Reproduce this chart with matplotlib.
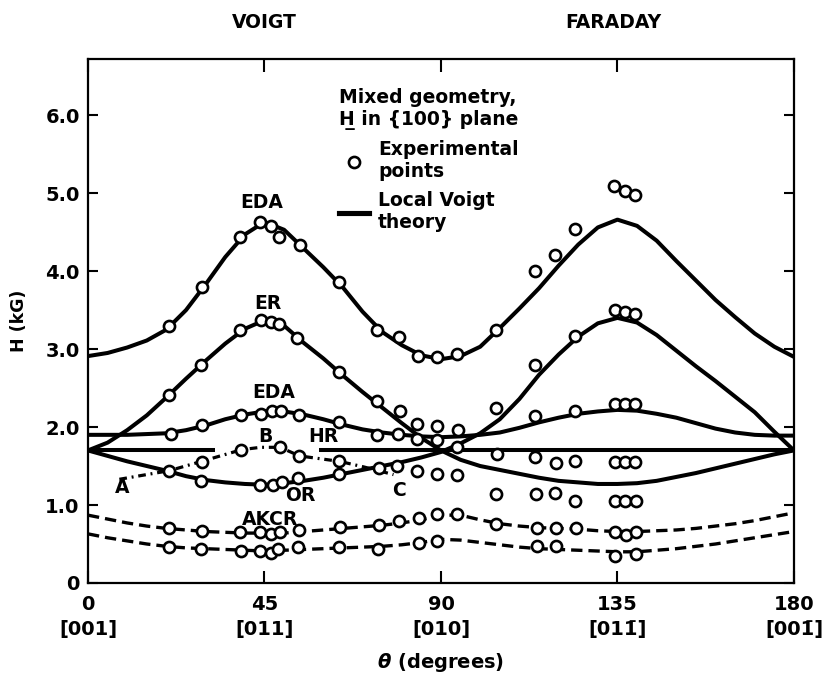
import matplotlib
matplotlib.use("Agg")
import matplotlib.pyplot as plt
import matplotlib.transforms as mtransforms
from matplotlib.lines import Line2D

# ---- data ----
theta = list(range(0, 181, 5))

# Local Voigt theory curves (H in kG), sampled every 5 degrees
eda_top_th = [2.91, 2.95, 3.02, 3.11, 3.25, 3.50, 3.83, 4.18, 4.47, 4.63,
              4.53, 4.29, 4.05, 3.79, 3.48, 3.22, 3.05, 2.92, 2.87,
              2.91, 3.03, 3.27, 3.52, 3.78, 4.07, 4.34, 4.56, 4.66,
              4.58, 4.39, 4.13, 3.88, 3.63, 3.41, 3.20, 3.03, 2.90]
er_left_th = [1.70, 1.80, 1.96, 2.15, 2.38, 2.62, 2.85, 3.07, 3.26, 3.37,
              3.30, 3.08, 2.88, 2.66, 2.45, 2.25, 2.05, 1.86, 1.70,
              1.58, 1.50, 1.45, 1.40, 1.35, 1.31, 1.29, 1.27, 1.27,
              1.28, 1.31, 1.36, 1.41, 1.47, 1.53, 1.59, 1.65, 1.70]
er_right_th = [1.70, 1.63, 1.56, 1.50, 1.44, 1.37, 1.32, 1.29, 1.27, 1.26,
               1.28, 1.31, 1.35, 1.40, 1.45, 1.50, 1.55, 1.61, 1.68,
               1.79, 1.92, 2.10, 2.36, 2.67, 2.93, 3.16, 3.33, 3.40,
               3.34, 3.18, 2.98, 2.78, 2.59, 2.39, 2.19, 1.94, 1.70]
eda_low_th = [1.90, 1.90, 1.90, 1.91, 1.92, 1.96, 2.02, 2.10, 2.16, 2.20,
              2.20, 2.16, 2.10, 2.03, 1.97, 1.93, 1.90, 1.88, 1.87,
              1.88, 1.90, 1.93, 1.99, 2.06, 2.12, 2.17, 2.20, 2.22,
              2.21, 2.17, 2.12, 2.05, 1.98, 1.93, 1.90, 1.89, 1.89]
akcr_hi_th = [0.87, 0.82, 0.77, 0.73, 0.70, 0.68, 0.66, 0.65, 0.64, 0.64,
              0.64, 0.66, 0.68, 0.70, 0.72, 0.74, 0.77, 0.81, 0.87,
              0.87, 0.81, 0.76, 0.73, 0.71, 0.70, 0.69, 0.67, 0.66,
              0.66, 0.67, 0.68, 0.70, 0.73, 0.76, 0.80, 0.85, 0.90]
akcr_lo_th = [0.63, 0.58, 0.54, 0.50, 0.47, 0.45, 0.44, 0.43, 0.42, 0.41,
              0.42, 0.43, 0.44, 0.45, 0.46, 0.47, 0.49, 0.52, 0.56,
              0.55, 0.52, 0.49, 0.46, 0.44, 0.43, 0.42, 0.41, 0.40,
              0.40, 0.42, 0.44, 0.47, 0.50, 0.54, 0.58, 0.62, 0.66]

hr_level = 1.70
hr_segments = [(0, 32.4), (59, 180)]

abc_x = [8.0, 20.7, 29.0, 39.2, 44.0, 49.0, 53.9, 64.1, 70.2, 77.9]
abc_y = [1.33, 1.44, 1.56, 1.71, 1.74, 1.74, 1.63, 1.56, 1.49, 1.39]

# experimental points
top_x = [20.7, 29.1, 38.8, 43.9, 46.6, 48.8, 54.1, 63.9, 73.6, 79.2, 84.1, 89.1, 94.2,
         104.1, 114.0, 119.0, 124.2, 134.2, 137.0, 139.5]
top_y = [3.30, 3.80, 4.44, 4.63, 4.58, 4.44, 4.33, 3.86, 3.24, 3.16, 2.91, 2.90, 2.94,
         3.25, 4.00, 4.20, 4.54, 5.09, 5.03, 4.98]
er_x = [20.7, 28.7, 38.8, 44.0, 46.6, 48.6, 53.4, 64.1, 73.7, 79.6, 84.0, 89.1, 94.3,
        104.1, 114.0, 124.2, 134.4, 137.0, 139.5]
er_y = [2.41, 2.79, 3.24, 3.37, 3.35, 3.32, 3.14, 2.71, 2.34, 2.21, 2.04, 2.01, 1.96,
        2.24, 2.80, 3.17, 3.50, 3.48, 3.45]
eda_x = [21.1, 29.1, 38.9, 44.1, 46.9, 49.2, 53.9, 64.1, 73.8, 79.0, 84.0, 89.1, 94.1,
         114.0, 124.2, 134.4, 137.0, 139.5]
eda_y = [1.91, 2.02, 2.15, 2.17, 2.20, 2.20, 2.16, 2.06, 1.90, 1.91, 1.85, 1.83, 1.75,
         2.14, 2.21, 2.30, 2.30, 2.30]
or_x = [20.7, 28.9, 43.9, 47.1, 49.4, 53.6, 64.1, 74.2, 78.9, 84.0, 89.1, 94.2,
        104.4, 114.0, 119.3, 124.2, 134.4, 137.0, 139.5]
or_y = [1.44, 1.31, 1.26, 1.26, 1.30, 1.35, 1.40, 1.48, 1.50, 1.44, 1.40, 1.39,
        1.65, 1.62, 1.54, 1.56, 1.55, 1.55, 1.55]
low_x = [104.1, 114.3, 119.1, 124.2, 134.3, 137.0, 139.7]
low_y = [1.14, 1.14, 1.15, 1.05, 1.05, 1.05, 1.05]
abc_pts_x = [29.0, 39.0, 49.0, 53.9, 64.1]
abc_pts_y = [1.55, 1.71, 1.74, 1.63, 1.56]
akcr_hi_x = [20.7, 29.1, 38.8, 43.9, 46.7, 49.0, 53.9, 64.3, 74.2, 79.4, 84.3, 89.1, 94.0,
             104.1, 114.5, 119.3, 124.4, 134.3, 137.2, 139.7]
akcr_hi_y = [0.70, 0.67, 0.65, 0.65, 0.63, 0.65, 0.68, 0.72, 0.75, 0.80, 0.83, 0.89, 0.88,
             0.76, 0.71, 0.71, 0.70, 0.66, 0.62, 0.66]
akcr_lo_x = [20.7, 28.7, 39.0, 43.9, 46.6, 48.5, 53.6, 64.1, 73.9, 84.3, 89.1,
             114.5, 119.3, 134.3, 139.7]
akcr_lo_y = [0.46, 0.44, 0.41, 0.41, 0.39, 0.43, 0.46, 0.46, 0.44, 0.51, 0.54,
             0.47, 0.48, 0.35, 0.37]

x_ticks = [0, 45, 90, 135, 180]
x_ticklabels = ["0\n[001]", "45\n[011]", "90\n[010]", "135\n[011\u0304]", "180\n[001\u0304]"]
y_ticks = [0, 1, 2, 3, 4, 5, 6]
y_ticklabels = ["0", "1.0", "2.0", "3.0", "4.0", "5.0", "6.0"]

curve_labels = [("EDA", 44.2, 4.88), ("ER", 45.8, 3.59), ("EDA", 47.3, 2.44),
                ("B", 45.2, 1.88), ("HR", 59.9, 1.88), ("A", 8.6, 1.22),
                ("OR", 54.1, 1.12), ("C", 79.2, 1.18), ("AKCR", 46.4, 0.82)]

# ---- figure ----
plt.rcParams['font.family'] = ['DejaVu Sans']
plt.rcParams['font.weight'] = 'bold'
plt.rcParams['axes.labelweight'] = 'bold'
plt.rcParams['mathtext.fontset'] = 'dejavusans'
FS = 13.5

fig = plt.figure(figsize=(8.23, 6.79), dpi=100)
ax = fig.add_axes([0.1069, 0.1414, 0.8578, 0.7717])

LW = 2.9
for ys in (eda_top_th, er_left_th, er_right_th, eda_low_th):
    ax.plot(theta, ys, color='black', lw=LW, solid_capstyle='butt', zorder=2)
for x0, x1 in hr_segments:
    ax.plot([x0, x1], [hr_level, hr_level], color='black', lw=LW,
            solid_capstyle='butt', zorder=2)
for ys in (akcr_hi_th, akcr_lo_th):
    ax.plot(theta, ys, color='black', lw=2.4, linestyle=(0, (3.4, 1.8)),
            zorder=2)
ax.plot(abc_x, abc_y, color='black', lw=2.3, linestyle=(0, (2.4, 1.5, 0.6, 1.5)),
        zorder=2)

mk = dict(marker='o', ms=8, mfc='white', mec='black', mew=1.9, ls='none', zorder=3)
for xs, ys in ((top_x, top_y), (er_x, er_y), (eda_x, eda_y), (or_x, or_y),
               (low_x, low_y), (abc_pts_x, abc_pts_y),
               (akcr_hi_x, akcr_hi_y), (akcr_lo_x, akcr_lo_y)):
    ax.plot(xs, ys, **mk)

for txt, x, y in curve_labels:
    ax.text(x, y, txt, fontsize=FS, ha='center', va='center', zorder=4)

ax.set_xlim(0, 180)
ax.set_ylim(0, 6.72)
ax.set_xticks(x_ticks, x_ticklabels, fontsize=FS + 0.5, linespacing=1.4)
ax.set_yticks(y_ticks, y_ticklabels, fontsize=FS + 0.5)
ax.tick_params(axis='x', direction='in', length=9, width=1.5, top=True, pad=9)
ax.tick_params(axis='y', direction='in', length=7, width=1.5, right=True, pad=6)
for sp in ax.spines.values():
    sp.set_linewidth(1.6)

ax.set_xlabel(r"$\theta$ (degrees)", fontsize=FS + 0.5, fontweight='bold', labelpad=8)
ax.set_ylabel("H (kG)", fontsize=FS - 1, fontweight='bold')
ax.yaxis.set_label_coords(-0.085, 0.50)

trans = mtransforms.blended_transform_factory(ax.transData, ax.transAxes)
ax.text(45, 1.07, "VOIGT", transform=trans, ha='center', va='center', fontsize=FS)
ax.text(134, 1.07, "FARADAY", transform=trans, ha='center', va='center', fontsize=FS)

h_pts = Line2D([], [], **mk)
h_line = Line2D([], [], color='black', lw=LW + 0.8)
leg = ax.legend([h_pts, h_line], ["Experimental\npoints", "Local Voigt\ntheory"],
                title="Mixed geometry,\nH\u0332 in {100} plane",
                loc='upper left', bbox_to_anchor=(0.355, 0.945),
                frameon=False, fontsize=FS, title_fontsize=FS,
                borderpad=0, borderaxespad=0, handlelength=1.6,
                handletextpad=0.5, labelspacing=0.55, numpoints=1)
leg._legend_box.align = "left"
leg.get_title().set_fontweight('bold')

fig.savefig("out.png", dpi=100)
